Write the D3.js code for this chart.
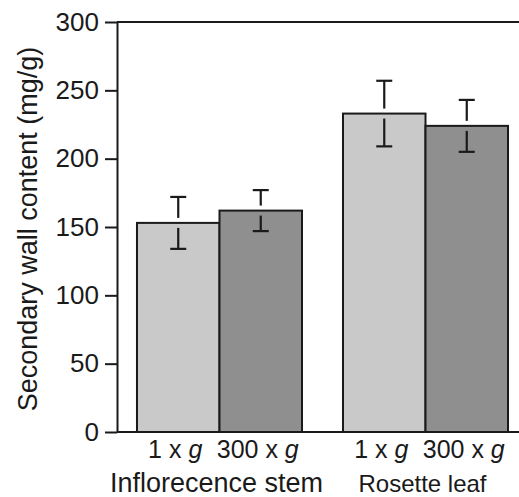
<!DOCTYPE html>
<html>
<head>
<meta charset="utf-8">
<script src="https://cdn.jsdelivr.net/npm/d3@7"></script>
<style>
  body { margin: 0; background: #fff; }
  text { font-family: "Liberation Sans", Arial, sans-serif; fill: #1a1a1a; }
</style>
</head>
<body>
<svg id="chart" width="519" height="497"></svg>
<script>
  'use strict';

  var groups = ['Inflorecence stem', 'Rosette leaf'];
  var treatments = ['1', '300'];
  var means = [[153, 162], [233, 224]];
  var errors = [[19, 15], [24, 19]];
  var yTicks = [0, 50, 100, 150, 200, 250, 300];

  var colors = ['#c9c9c9', '#8f8f8f'];
  var ink = '#1a1a1a';

  var svg = d3.select('#chart');
  var W = 519, axisX = 117;

  var y = d3.scaleLinear().domain([0, 300]).range([432, 22]);
  var x0 = d3.scaleBand().domain(groups).range([axisX, 528])
      .paddingInner(0.199).paddingOuter(0.097);
  var x1 = d3.scaleBand().domain(treatments).range([0, x0.bandwidth()]);

  // bars
  var g = svg.selectAll('.grp')
      .data(groups)
      .enter().append('g')
      .attr('class', 'grp')
      .attr('transform', function(d) { return 'translate(' + x0(d) + ',0)'; });

  g.selectAll('rect')
      .data(function(d, i) { return treatments.map(function(t, j) { return {t: t, v: means[i][j], e: errors[i][j], j: j}; }); })
      .enter().append('rect')
      .attr('x', function(d) { return x1(d.t); })
      .attr('y', function(d) { return y(d.v); })
      .attr('width', x1.bandwidth())
      .attr('height', function(d) { return y(0) - y(d.v); })
      .style('fill', function(d) { return colors[d.j]; })
      .style('stroke', ink)
      .style('stroke-width', 2);

  // error bars, with a small gap around the bar top
  var eb = g.selectAll('.eb')
      .data(function(d, i) { return treatments.map(function(t, j) { return {t: t, v: means[i][j], e: errors[i][j]}; }); })
      .enter().append('g')
      .attr('class', 'eb')
      .attr('transform', function(d) { return 'translate(' + (x1(d.t) + x1.bandwidth() / 2) + ',0)'; });
  var gap = 5, cap = 8;
  eb.append('line')
      .attr('y1', function(d) { return y(d.v + d.e); })
      .attr('y2', function(d) { return y(d.v) - gap; });
  eb.append('line')
      .attr('y1', function(d) { return y(d.v) + gap; })
      .attr('y2', function(d) { return y(d.v - d.e); });
  eb.append('line')
      .attr('x1', -cap).attr('x2', cap)
      .attr('y1', function(d) { return y(d.v + d.e); })
      .attr('y2', function(d) { return y(d.v + d.e); });
  eb.append('line')
      .attr('x1', -cap).attr('x2', cap)
      .attr('y1', function(d) { return y(d.v - d.e); })
      .attr('y2', function(d) { return y(d.v - d.e); });
  eb.selectAll('line').style('stroke', ink).style('stroke-width', 2.2);

  // frame lines
  svg.append('line').attr('x1', axisX).attr('x2', W).attr('y1', y(300)).attr('y2', y(300))
      .style('stroke', ink).style('stroke-width', 2);
  svg.append('line').attr('x1', axisX).attr('x2', W).attr('y1', y(0)).attr('y2', y(0))
      .style('stroke', ink).style('stroke-width', 2);

  // y axis
  var yAxis = svg.append('g')
      .attr('transform', 'translate(' + axisX + ',0)')
      .call(d3.axisLeft(y).tickValues(yTicks).tickSize(12).tickSizeOuter(0).tickPadding(6));
  yAxis.select('.domain').style('stroke', ink).style('stroke-width', 2);
  yAxis.selectAll('.tick line').style('stroke', ink).style('stroke-width', 2);
  yAxis.selectAll('.tick text').style('font-size', '26px').style('fill', ink)
      .attr('font-family', null);

  // x tick labels (sit a little left of the bar centres)
  g.selectAll('.xl')
      .data(treatments)
      .enter().append('text')
      .attr('class', 'xl')
      .attr('x', function(d) { return x1(d) + x1.bandwidth() / 2 - 3; })
      .attr('y', 458)
      .style('text-anchor', 'middle')
      .style('font-size', '25px')
      .each(function(d) {
        var t = d3.select(this);
        t.append('tspan').text(d + ' x ');
        t.append('tspan').style('font-style', 'italic').text('g');
      });

  // group labels
  g.append('text')
      .attr('x', x0.bandwidth() / 2 - 3)
      .attr('y', 492)
      .style('text-anchor', 'middle')
      .style('font-size', function(d, i) { return i === 0 ? '27px' : '24px'; })
      .text(function(d) { return d; });

  // y title
  svg.append('text')
      .attr('transform', 'translate(37,229) rotate(-90)')
      .style('text-anchor', 'middle')
      .style('font-size', '27px')
      .text('Secondary wall content (mg/g)');
</script>
</body>
</html>
